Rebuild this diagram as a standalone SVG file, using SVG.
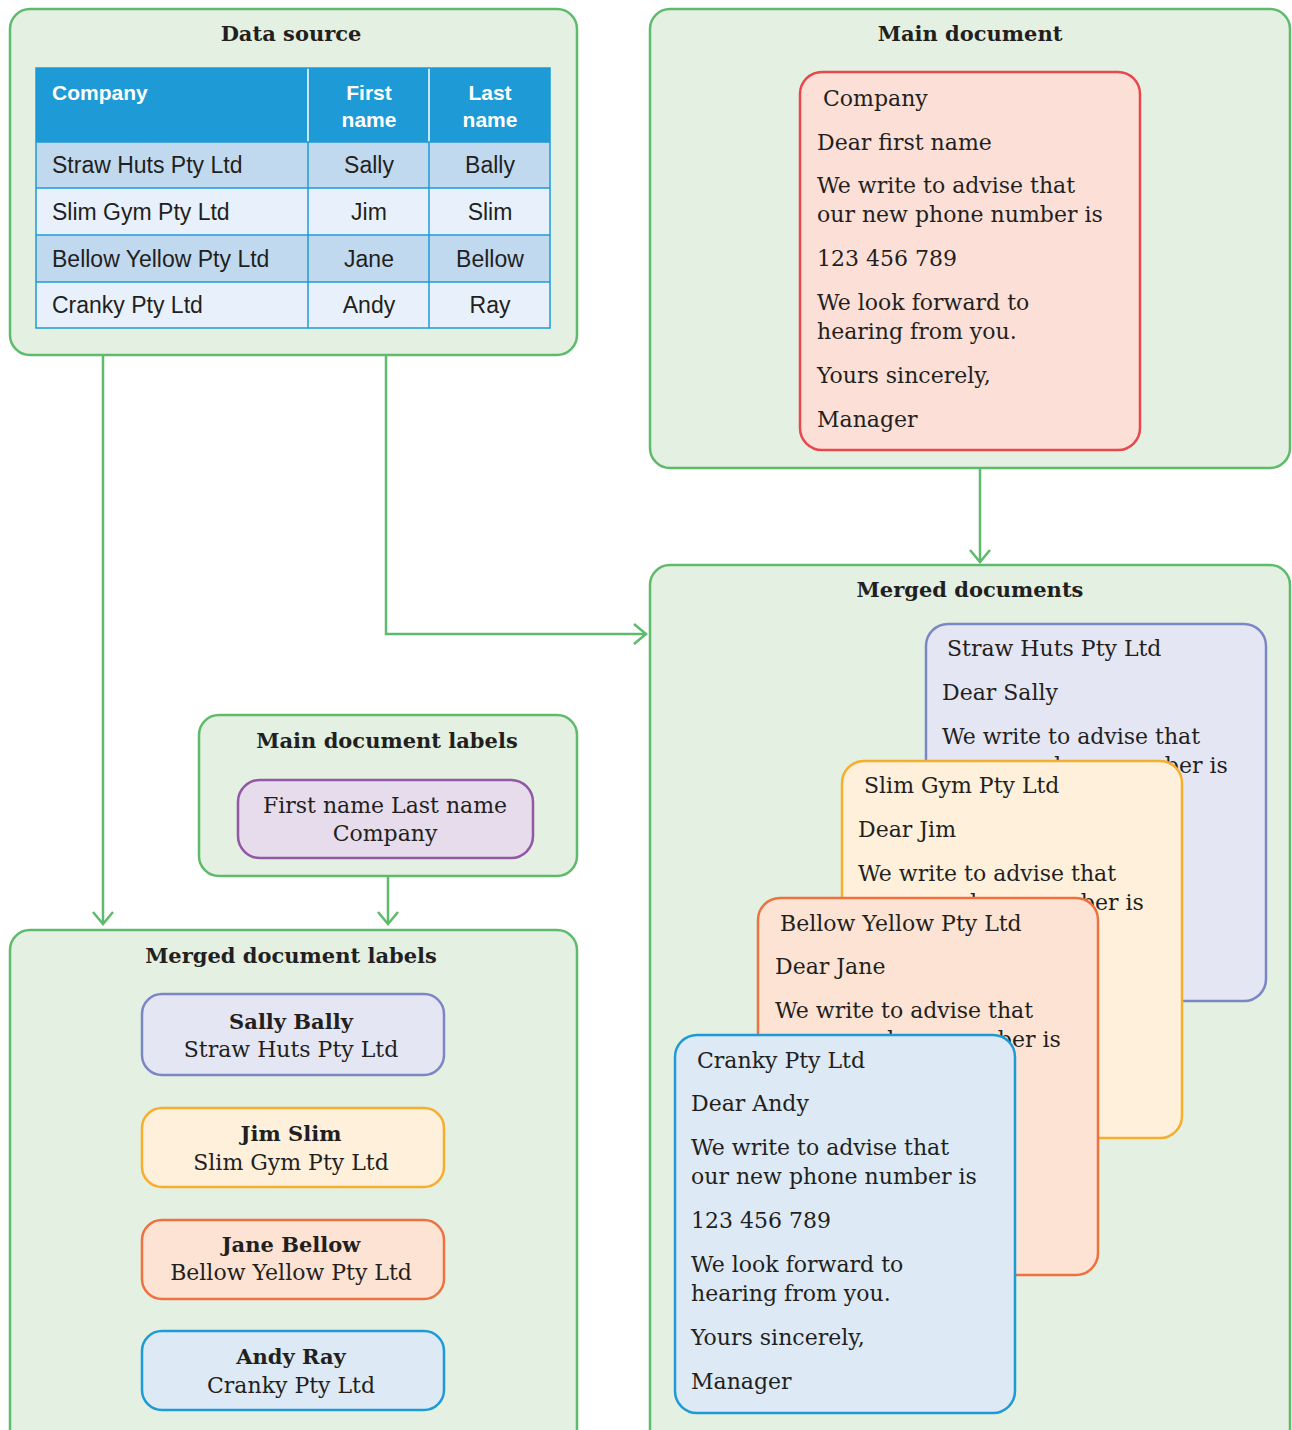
<svg xmlns="http://www.w3.org/2000/svg" width="1292" height="1430" viewBox="0 0 1292 1430">
<style>
.cont{fill:#e3f0e2;stroke:#5dbb6b;stroke-width:2.5}
.title{font-family:"DejaVu Serif",serif;font-weight:bold;font-size:21px;fill:#231f20;text-anchor:middle}
.doc{font-family:"DejaVu Serif",serif;font-size:22px;fill:#231f20}
.lbl{font-family:"DejaVu Serif",serif;font-size:22px;fill:#231f20;text-anchor:middle}
.lblb{font-family:"DejaVu Serif",serif;font-size:21px;font-weight:bold;fill:#231f20;text-anchor:middle}
.th{font-family:"Liberation Sans",Arial,sans-serif;font-weight:bold;font-size:21px;fill:#ffffff}
.td{font-family:"Liberation Sans",Arial,sans-serif;font-size:23px;fill:#231f20}
.c{text-anchor:middle}
.grid{stroke:#1e9ad6;stroke-width:1.5;fill:none}
.conn{fill:none;stroke:#5dbb6b;stroke-width:2.5}
.red{fill:#fce0d8;stroke:#e8474c;stroke-width:2.5}
.blue{fill:#e5e6f3;stroke:#7b86c4;stroke-width:2.5}
.yel{fill:#fff0db;stroke:#f6ae2d;stroke-width:2.5}
.ora{fill:#fde3d4;stroke:#ee7240;stroke-width:2.5}
.cy{fill:#dde9f5;stroke:#1e9ad6;stroke-width:2.5}
.pur{fill:#e6dcec;stroke:#9257a5;stroke-width:2.5}
</style>
<defs>
<marker id="arr" markerUnits="userSpaceOnUse" markerWidth="30" markerHeight="30" viewBox="-15 -15 30 30" refX="0" refY="0" orient="auto">
<path d="M-12,-10 L0,0 L-12,10" fill="none" stroke="#5dbb6b" stroke-width="2.5"/>
</marker>
</defs>

<g id="connectors">
<path class="conn" d="M103,356 V924" marker-end="url(#arr)"/>
<path class="conn" d="M386,356 V634 H646" marker-end="url(#arr)"/>
<path class="conn" d="M980,469 V562" marker-end="url(#arr)"/>
<path class="conn" d="M388,877 V924" marker-end="url(#arr)"/>
</g>

<g id="data-source">
<rect class="cont" x="10" y="9" width="567" height="346" rx="20"/>
<text class="title" x="291" y="41">Data source</text>
<rect x="36" y="68" width="514" height="74" fill="#1e9ad6"/>
<rect x="36" y="142" width="514" height="46" fill="#c1d9ef"/>
<rect x="36" y="188" width="514" height="47" fill="#e8f1fb"/>
<rect x="36" y="235" width="514" height="47" fill="#c1d9ef"/>
<rect x="36" y="282" width="514" height="46" fill="#e8f1fb"/>
<path d="M308,68 V142 M429,68 V142" stroke="#ffffff" stroke-width="1.5"/>
<path class="grid" d="M36,68 H550 V328 H36 Z M36,142 H550 M36,188 H550 M36,235 H550 M36,282 H550 M308,142 V328 M429,142 V328"/>
<text class="th" x="52" y="100">Company</text>
<text class="th c" x="369" y="100">First</text>
<text class="th c" x="369" y="127">name</text>
<text class="th c" x="490" y="100">Last</text>
<text class="th c" x="490" y="127">name</text>
<text class="td" x="52" y="173">Straw Huts Pty Ltd</text>
<text class="td c" x="369" y="173">Sally</text>
<text class="td c" x="490" y="173">Bally</text>
<text class="td" x="52" y="220">Slim Gym Pty Ltd</text>
<text class="td c" x="369" y="220">Jim</text>
<text class="td c" x="490" y="220">Slim</text>
<text class="td" x="52" y="267">Bellow Yellow Pty Ltd</text>
<text class="td c" x="369" y="267">Jane</text>
<text class="td c" x="490" y="267">Bellow</text>
<text class="td" x="52" y="313">Cranky Pty Ltd</text>
<text class="td c" x="369" y="313">Andy</text>
<text class="td c" x="490" y="313">Ray</text>
</g>

<g id="main-document">
<rect class="cont" x="650" y="9" width="640" height="459" rx="20"/>
<text class="title" x="970" y="41">Main document</text>
<rect class="red" x="800" y="72" width="340" height="378" rx="22"/>
<text class="doc" x="823" y="106">Company</text>
<text class="doc" x="817" y="150">Dear first name</text>
<text class="doc" x="817" y="193">We write to advise that</text>
<text class="doc" x="817" y="222">our new phone number is</text>
<text class="doc" x="817" y="266">123 456 789</text>
<text class="doc" x="817" y="310">We look forward to</text>
<text class="doc" x="817" y="339">hearing from you.</text>
<text class="doc" x="817" y="383">Yours sincerely,</text>
<text class="doc" x="817" y="427">Manager</text>
</g>

<g id="merged-documents">
<rect class="cont" x="650" y="565" width="640" height="900" rx="20"/>
<text class="title" x="970" y="597">Merged documents</text>
<g id="doc-straw">
<rect class="blue" x="926" y="624" width="340" height="377" rx="22"/>
<text class="doc" x="947" y="656">Straw Huts Pty Ltd</text>
<text class="doc" x="942" y="700">Dear Sally</text>
<text class="doc" x="942" y="744">We write to advise that</text>
<text class="doc" x="942" y="773">our new phone number is</text>
</g>
<g id="doc-slim">
<rect class="yel" x="842" y="761" width="340" height="377" rx="22"/>
<text class="doc" x="864" y="793">Slim Gym Pty Ltd</text>
<text class="doc" x="858" y="837">Dear Jim</text>
<text class="doc" x="858" y="881">We write to advise that</text>
<text class="doc" x="858" y="910">our new phone number is</text>
</g>
<g id="doc-bellow">
<rect class="ora" x="758" y="898" width="340" height="377" rx="22"/>
<text class="doc" x="780" y="931">Bellow Yellow Pty Ltd</text>
<text class="doc" x="775" y="974">Dear Jane</text>
<text class="doc" x="775" y="1018">We write to advise that</text>
<text class="doc" x="775" y="1047">our new phone number is</text>
</g>
<g id="doc-cranky">
<rect class="cy" x="675" y="1035" width="340" height="378" rx="22"/>
<text class="doc" x="697" y="1068">Cranky Pty Ltd</text>
<text class="doc" x="691" y="1111">Dear Andy</text>
<text class="doc" x="691" y="1155">We write to advise that</text>
<text class="doc" x="691" y="1184">our new phone number is</text>
<text class="doc" x="691" y="1228">123 456 789</text>
<text class="doc" x="691" y="1272">We look forward to</text>
<text class="doc" x="691" y="1301">hearing from you.</text>
<text class="doc" x="691" y="1345">Yours sincerely,</text>
<text class="doc" x="691" y="1389">Manager</text>
</g>
</g>

<g id="main-document-labels">
<rect class="cont" x="199" y="715" width="378" height="161" rx="20"/>
<text class="title" x="387" y="748">Main document labels</text>
<rect class="pur" x="238" y="780" width="295" height="78" rx="22"/>
<text class="lbl" x="385" y="813">First name Last name</text>
<text class="lbl" x="385" y="841">Company</text>
</g>

<g id="merged-document-labels">
<rect class="cont" x="10" y="930" width="567" height="520" rx="20"/>
<text class="title" x="291" y="963">Merged document labels</text>
<g id="label-sally">
<rect class="blue" x="142" y="994" width="302" height="81" rx="20"/>
<text class="lblb" x="291" y="1029">Sally Bally</text>
<text class="lbl" x="291" y="1057">Straw Huts Pty Ltd</text>
</g>
<g id="label-jim">
<rect class="yel" x="142" y="1108" width="302" height="79" rx="20"/>
<text class="lblb" x="291" y="1141">Jim Slim</text>
<text class="lbl" x="291" y="1170">Slim Gym Pty Ltd</text>
</g>
<g id="label-jane">
<rect class="ora" x="142" y="1220" width="302" height="79" rx="20"/>
<text class="lblb" x="291" y="1252">Jane Bellow</text>
<text class="lbl" x="291" y="1280">Bellow Yellow Pty Ltd</text>
</g>
<g id="label-andy">
<rect class="cy" x="142" y="1331" width="302" height="79" rx="20"/>
<text class="lblb" x="291" y="1364">Andy Ray</text>
<text class="lbl" x="291" y="1393">Cranky Pty Ltd</text>
</g>
</g>
</svg>
